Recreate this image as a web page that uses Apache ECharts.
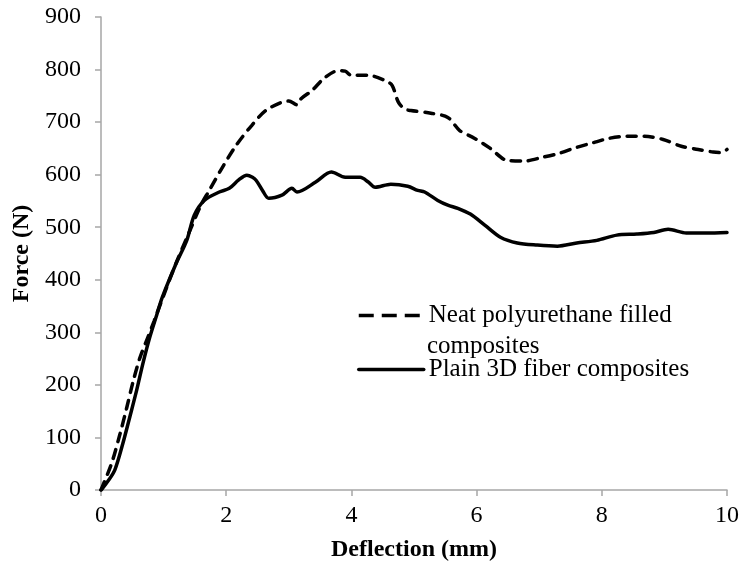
<!DOCTYPE html>
<html>
<head>
<meta charset="utf-8">
<script src="https://cdn.jsdelivr.net/npm/echarts@6/dist/echarts.min.js"></script>
<style>html,body{margin:0;padding:0;background:#fff;}#c{width:742px;height:572px;}</style>
</head>
<body>
<div id="c"></div>
<script>
// Deflection (mm) and force (N) for neat polyurethane filled composites (dashed)
var neatX = [0, 0.17, 0.30, 0.41, 0.51, 0.62, 0.75, 0.85, 1.0, 1.2, 1.4, 1.6, 1.73, 1.94, 2.16, 2.41, 2.63, 2.89, 3.0, 3.13, 3.2, 3.37, 3.56, 3.79, 3.9, 4.0, 4.27, 4.54, 4.65, 4.75, 4.85, 4.95, 5.27, 5.54, 5.73, 5.97, 6.22, 6.49, 6.76, 7.05, 7.33, 7.6, 7.84, 8.11, 8.4, 8.68, 8.98, 9.27, 9.54, 9.78, 9.9, 10.0];
var neatF = [0, 51, 105, 156, 205, 251, 291, 322, 370, 432, 488, 543, 570, 614, 656, 694, 722, 738, 740, 733, 745, 760, 783, 798, 797, 789, 789, 779, 770, 738, 725, 722, 717, 709, 684, 669, 650, 627, 626, 633, 641, 652, 660, 669, 673, 673, 667, 654, 648, 643, 642, 648];
// Plain 3D fiber composites (solid)
var plainX = [0, 0.03, 0.10, 0.22, 0.35, 0.46, 0.57, 0.67, 0.78, 0.89, 0.98, 1.2, 1.37, 1.49, 1.65, 1.89, 2.05, 2.2, 2.33, 2.42, 2.48, 2.58, 2.68, 2.89, 3.05, 3.13, 3.43, 3.68, 3.9, 4.14, 4.27, 4.38, 4.63, 4.9, 5.06, 5.17, 5.38, 5.54, 5.70, 5.9, 6.13, 6.38, 6.65, 6.97, 7.29, 7.6, 7.92, 8.24, 8.56, 8.83, 9.06, 9.35, 9.67, 10.0];
var plainF = [0, 4, 15, 38, 89, 139, 190, 241, 291, 333, 367, 431, 475, 523, 551, 567, 574, 590, 599, 595, 589, 570, 555, 561, 574, 567, 586, 605, 595, 595, 586, 576, 582, 578, 570, 567, 551, 542, 536, 525, 504, 481, 470, 466, 464, 470, 475, 485, 487, 490, 496, 489, 489, 490];
var xTicks = [0, 2, 4, 6, 8, 10];
var yTicks = [0, 100, 200, 300, 400, 500, 600, 700, 800, 900];
var seriesNames = ['Neat polyurethane filled composites', 'Plain 3D fiber composites'];

function zip(a, b) { return a.map(function (v, i) { return [v, b[i]]; }); }

var font = 'Liberation Serif';
var axisGray = '#a6a6a6';
var chart = echarts.init(document.getElementById('c'), null, { renderer: 'canvas' });
chart.setOption({
  animation: false,
  backgroundColor: '#fff',
  grid: { left: 101, right: 11, top: 17, bottom: 82, containLabel: false },
  xAxis: {
    type: 'value', min: xTicks[0], max: xTicks[xTicks.length - 1], interval: 2,
    name: 'Deflection (mm)', nameLocation: 'middle', nameGap: 48,
    nameTextStyle: { fontFamily: font, fontWeight: 'bold', fontSize: 24, color: '#000' },
    axisLine: { lineStyle: { color: axisGray, width: 1.5 } },
    axisTick: { show: true, inside: false, length: 6, lineStyle: { color: axisGray, width: 1.5 } },
    axisLabel: { fontFamily: font, fontSize: 24, color: '#000', margin: 14 },
    splitLine: { show: false }
  },
  yAxis: {
    type: 'value', min: yTicks[0], max: yTicks[yTicks.length - 1], interval: 100,
    name: 'Force (N)', nameLocation: 'middle', nameGap: 64, nameRotate: 90,
    nameTextStyle: { fontFamily: font, fontWeight: 'bold', fontSize: 24, color: '#000' },
    axisLine: { show: true, lineStyle: { color: axisGray, width: 1.5 } },
    axisTick: { show: true, inside: false, length: 6, lineStyle: { color: axisGray, width: 1.5 } },
    axisLabel: { fontFamily: font, fontSize: 24, color: '#000', margin: 20 },
    splitLine: { show: false }
  },
  legend: {
    show: true, orient: 'vertical', left: 357, top: 302, padding: 0, itemWidth: 65, itemHeight: 14, itemGap: 27,
    textStyle: { fontFamily: font, fontSize: 25, color: '#000', lineHeight: 27 },
    itemStyle: { opacity: 0 },
    formatter: function (n) { return n === seriesNames[0] ? 'Neat polyurethane filled' : n; },
    data: [
      { name: seriesNames[0], lineStyle: { type: [15, 8], width: 3.5, cap: 'butt' } },
      { name: seriesNames[1], lineStyle: { type: 'solid', width: 3.5 } }
    ]
  },
  graphic: [
    { type: 'text', left: 427, top: 334, style: { text: 'composites', font: '25px "Liberation Serif"', fill: '#000' } }
  ],
  series: [
    {
      name: seriesNames[0], type: 'line', data: zip(neatX, neatF), showSymbol: false, symbol: 'none',
      smooth: 0.3,
      lineStyle: { color: '#000', width: 3.5, type: [9, 8], cap: 'round' },
      itemStyle: { color: '#000' }
    },
    {
      name: seriesNames[1], type: 'line', data: zip(plainX, plainF), showSymbol: false, symbol: 'none',
      smooth: 0.3,
      lineStyle: { color: '#000', width: 3.5, type: 'solid', cap: 'round' },
      itemStyle: { color: '#000' }
    }
  ]
});
</script>
</body>
</html>
